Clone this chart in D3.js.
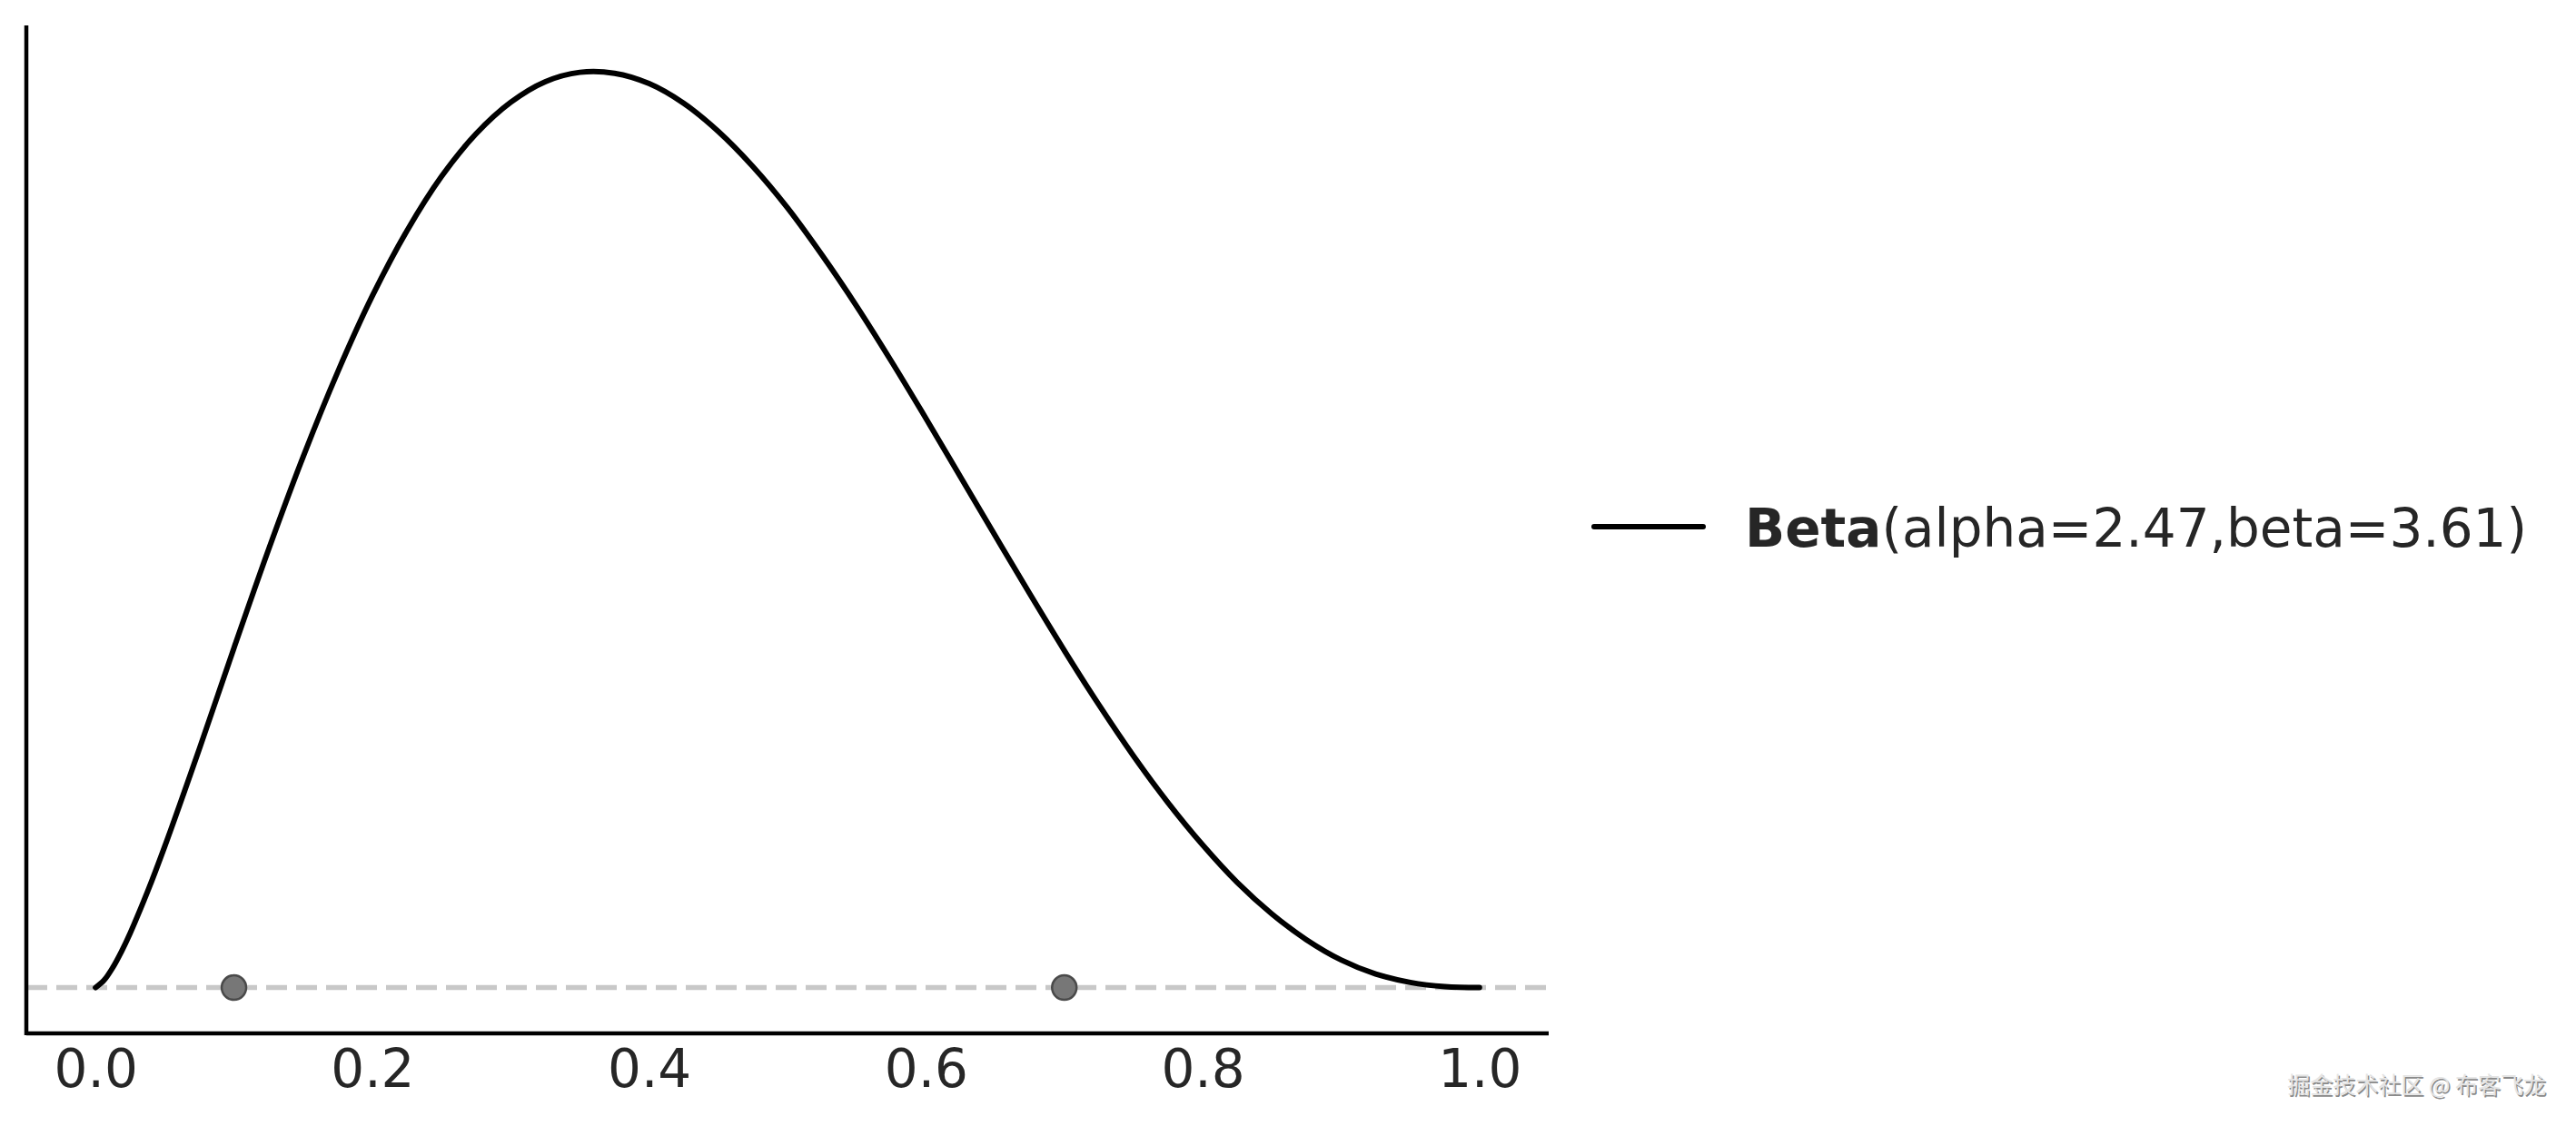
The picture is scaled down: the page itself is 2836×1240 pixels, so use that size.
<!DOCTYPE html>
<html lang="en">
<head>
    <meta charset="UTF-8">
    <title>Beta distribution</title>
    <script src="https://cdnjs.cloudflare.com/ajax/libs/d3/7.8.5/d3.min.js"></script>
    <style>
        body {
            margin: 0;
            background-color: #ffffff;
        }
        svg {
            display: block;
            font-family: "DejaVu Sans", sans-serif;
        }
    </style>
</head>
<body>
    <div id="chart"></div>

    <script>
        // Density
        const xValues = [0, 0.00625, 0.0125, 0.01875, 0.025, 0.0375, 0.05, 0.075, 0.1, 0.125, 0.15, 0.175, 0.2, 0.225,
            0.25, 0.275, 0.3, 0.325, 0.35, 0.375, 0.4, 0.425, 0.45, 0.475, 0.5, 0.525, 0.55, 0.575, 0.6, 0.625,
            0.65, 0.675, 0.7, 0.725, 0.75, 0.775, 0.8, 0.825, 0.85, 0.875, 0.9, 0.925, 0.95, 0.975, 1];
        const density = [0, 0.016, 0.043, 0.077, 0.116, 0.204, 0.301, 0.509, 0.724, 0.934, 1.132, 1.313, 1.475, 1.614,
            1.730, 1.821, 1.888, 1.932, 1.952, 1.950, 1.928, 1.886, 1.826, 1.751, 1.663, 1.562, 1.453, 1.336, 1.214, 1.089,
            0.964, 0.840, 0.719, 0.603, 0.494, 0.394, 0.304, 0.224, 0.157, 0.102, 0.059, 0.029, 0.011, 0.002, 0];

        // Observed points sitting on the zero line
        const observed = [0.1, 0.7];

        const xTicks = [0, 0.2, 0.4, 0.6, 0.8, 1.0];
        const legendName = "Beta";
        const legendParams = "(alpha=2.47,beta=3.61)";
        const watermark = "掘金技术社区 @ 布客飞龙";

        const W = 2836, H = 1240;
        const plot = {left: 29, right: 1705, top: 28, bottom: 1138};

        const svg = d3.select("#chart")
            .append("svg")
                .attr("width", W)
                .attr("height", H);

        const x = d3.scaleLinear()
            .domain([-0.05, 1.05])
            .range([plot.left, plot.right]);

        const y = d3.scaleLinear()
            .domain([-0.0977, 2.052])
            .range([plot.bottom, plot.top]);

        // zero line
        svg.append("line")
            .attr("x1", plot.left)
            .attr("x2", plot.right)
            .attr("y1", y(0))
            .attr("y2", y(0))
            .attr("stroke", "#c8c8c8")
            .attr("stroke-width", 5.5)
            .attr("stroke-dasharray", "23,10");

        // density curve
        const data = xValues.map((v, i) => ({x: v, y: density[i]}));
        const line = d3.line()
            .x(d => x(d.x))
            .y(d => y(d.y))
            .curve(d3.curveCatmullRom);

        svg.append("path")
            .datum(data)
            .attr("fill", "none")
            .attr("stroke", "#000000")
            .attr("stroke-width", 6)
            .attr("stroke-linecap", "round")
            .attr("stroke-linejoin", "round")
            .attr("d", line);

        // observed points
        svg.selectAll(".obs")
            .data(observed)
            .join("circle")
                .attr("class", "obs")
                .attr("cx", d => x(d))
                .attr("cy", y(0))
                .attr("r", 13.5)
                .attr("fill", "#777777")
                .attr("stroke", "#4a4a4a")
                .attr("stroke-width", 2.5);

        // x axis
        const xAxis = svg.append("g")
            .attr("transform", `translate(0,${plot.bottom})`)
            .call(d3.axisBottom(x)
                .tickValues(xTicks)
                .tickFormat(d3.format(".1f"))
                .tickSize(0)
                .tickPadding(18)
            );
        xAxis.select(".domain")
            .attr("d", `M${plot.left},0H${plot.right}`)
            .attr("stroke", "#000")
            .attr("stroke-width", 4.5);
        xAxis.selectAll("text")
            .attr("fill", "#262626")
            .style("font-size", "58px")
            .style("font-family", "'DejaVu Sans', sans-serif");

        // y axis (spine only)
        const yAxis = svg.append("g")
            .attr("transform", `translate(${plot.left},0)`)
            .call(d3.axisLeft(y).tickValues([]).tickSize(0));
        yAxis.select(".domain")
            .attr("d", `M0,${plot.top}V${plot.bottom + 2}`)
            .attr("stroke", "#000")
            .attr("stroke-width", 4.5);

        // legend
        const legend = svg.append("g")
            .attr("transform", "translate(1755,580)");
        legend.append("line")
            .attr("x1", 0)
            .attr("x2", 120)
            .attr("stroke", "#000")
            .attr("stroke-width", 6)
            .attr("stroke-linecap", "round");
        const lt = legend.append("text")
            .attr("x", 166)
            .attr("y", 22)
            .attr("fill", "#262626")
            .style("font-size", "58px");
        lt.append("tspan").style("font-weight", "bold").text(legendName);
        lt.append("tspan").text(legendParams);

        // watermark
        const wm = svg.append("g")
            .style("font-family", "'Noto Sans CJK SC', sans-serif")
            .style("font-size", "25px")
            .attr("text-anchor", "end");
        wm.append("text")
            .attr("x", 2804.5)
            .attr("y", 1205.5)
            .attr("fill", "#8a8a8a")
            .text(watermark);
        wm.append("text")
            .attr("x", 2803)
            .attr("y", 1204)
            .attr("fill", "#e4e4e4")
            .text(watermark);
    </script>
</body>
</html>
